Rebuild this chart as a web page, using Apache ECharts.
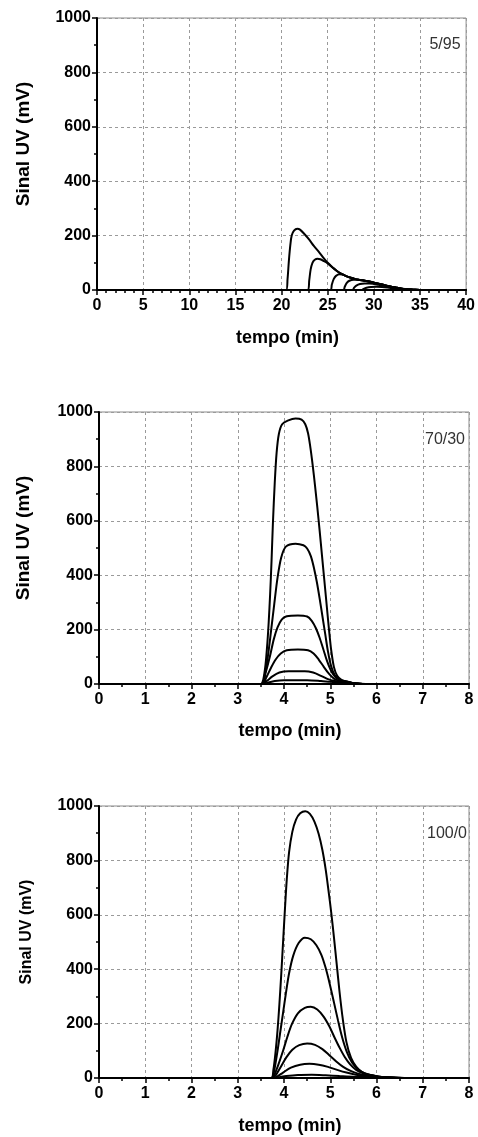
<!DOCTYPE html>
<html>
<head>
<meta charset="utf-8">
<script src="https://cdn.jsdelivr.net/npm/echarts@6/dist/echarts.min.js"></script>
<style>
  html, body { margin: 0; padding: 0; background: #fff; }
  #chart { width: 478px; height: 1137px; }
</style>
</head>
<body>
<div id="chart"></div>
<script>
// panel labels (fase móvel)
var panelLabels = ['5/95', '70/30', '100/0'];

// 5/95 : [tempo (min), sinal (mV)]
var p1_c1 = [[0,0],[20.5,0],[20.65,40],[20.8,110],[20.95,165],[21.1,200],[21.35,218],[21.7,225],[22.0,222],[22.5,205],[23.0,185],[23.5,162],[24.0,142],[24.5,120],[25.0,100],[25.5,84],[26.0,70],[26.5,59],[27.0,51],[27.5,45],[28.0,40],[28.5,37],[29.0,34],[29.5,31],[30.0,27],[30.5,23],[31.0,19],[31.5,15],[32.0,11],[32.5,8],[33.0,5],[33.5,3],[34.0,1.5],[34.5,0.5],[35,0],[40,0]];
var p1_c2 = [[0,0],[22.85,0],[23.0,35],[23.15,75],[23.35,100],[23.6,111],[23.9,115],[24.2,113],[24.6,106],[25.0,98],[25.5,84],[26.0,70],[26.5,59],[27.0,51],[27.5,45],[28.0,40],[28.5,37],[29.0,34],[29.5,31],[30.0,27],[30.5,23],[31.0,19],[31.5,15],[32.0,11],[32.5,8],[33.0,5],[33.5,3],[34.0,1.5],[34.5,0.5],[35,0],[40,0]];
var p1_c3 = [[0,0],[25.3,0],[25.45,20],[25.65,40],[25.9,52],[26.3,58],[26.6,57],[27.0,51],[27.5,45],[28.0,40],[28.5,37],[29.0,34],[29.5,31],[30.0,27],[30.5,23],[31.0,19],[31.5,15],[32.0,11],[32.5,8],[33.0,5],[33.5,3],[34.0,1.5],[34.5,0.5],[35,0],[40,0]];
var p1_c4 = [[0,0],[26.7,0],[26.85,12],[27.05,25],[27.35,34],[27.8,38],[28.3,38],[28.8,36],[29.3,32],[30.0,27],[30.5,23],[31.0,19],[31.5,15],[32.0,11],[32.5,8],[33.0,5],[33.5,3],[34.0,1.5],[34.5,0.5],[35,0],[40,0]];
var p1_c5 = [[0,0],[27.7,0],[27.85,8],[28.1,16],[28.5,22],[29.0,24],[29.5,24],[30.0,22],[30.5,19],[31.0,16],[31.5,13],[32.0,10],[32.5,7],[33.0,5],[33.5,3],[34.0,1.5],[34.5,0.5],[35,0],[40,0]];
var p1_c6 = [[0,0],[28.7,0],[28.9,4],[29.2,8],[29.7,11],[30.3,12],[30.9,11],[31.5,9],[32.0,7],[32.5,5],[33.0,3.5],[33.5,2],[34.0,1],[34.5,0.3],[35,0],[40,0]];

// 70/30
var p2_c1 = [[0,0],[3.5,0],[3.55,15],[3.6,70],[3.64,150],[3.67,230],[3.7,330],[3.73,450],[3.76,590],[3.8,740],[3.84,850],[3.89,920],[3.96,955],[4.08,968],[4.25,976],[4.38,972],[4.46,955],[4.52,922],[4.57,870],[4.62,805],[4.67,730],[4.72,650],[4.77,565],[4.82,475],[4.87,385],[4.92,295],[4.97,205],[5.02,125],[5.08,62],[5.15,30],[5.25,14],[5.38,8],[5.5,3],[5.7,0],[8,0]];
var p2_c2 = [[0,0],[3.52,0],[3.58,30],[3.65,100],[3.72,195],[3.79,295],[3.86,390],[3.94,465],[4.04,505],[4.25,516],[4.42,510],[4.5,498],[4.58,470],[4.65,425],[4.71,375],[4.77,315],[4.83,250],[4.89,185],[4.95,120],[5.02,65],[5.1,32],[5.22,15],[5.38,8],[5.5,3],[5.7,0],[8,0]];
var p2_c3 = [[0,0],[3.52,0],[3.6,40],[3.7,105],[3.78,165],[3.86,208],[3.95,237],[4.06,249],[4.3,252],[4.5,248],[4.6,232],[4.69,205],[4.77,170],[4.85,128],[4.93,85],[5.02,48],[5.12,24],[5.25,12],[5.4,7],[5.5,3],[5.7,0],[8,0]];
var p2_c4 = [[0,0],[3.53,0],[3.62,25],[3.72,60],[3.82,90],[3.93,112],[4.06,124],[4.3,127],[4.52,124],[4.64,112],[4.75,90],[4.86,63],[4.97,38],[5.08,20],[5.22,11],[5.38,6],[5.5,3],[5.7,0],[8,0]];
var p2_c5 = [[0,0],[3.53,0],[3.62,10],[3.75,28],[3.9,42],[4.1,47],[4.45,47],[4.63,42],[4.8,30],[4.95,18],[5.1,11],[5.25,7],[5.4,5],[5.55,2],[5.7,0],[8,0]];
var p2_c6 = [[0,0],[3.54,0],[3.65,5],[3.8,11],[4.0,14],[4.5,14],[4.8,11],[5.0,8],[5.2,6],[5.4,4],[5.55,2],[5.8,0],[8,0]];

// 100/0
var p3_c1 = [[0,0],[3.72,0],[3.77,30],[3.82,100],[3.86,175],[3.9,270],[3.94,380],[3.98,500],[4.02,620],[4.06,730],[4.11,830],[4.18,905],[4.26,950],[4.35,973],[4.46,981],[4.56,971],[4.66,942],[4.75,897],[4.83,838],[4.9,768],[4.96,692],[5.02,610],[5.08,517],[5.14,418],[5.2,318],[5.27,218],[5.35,132],[5.45,74],[5.56,42],[5.68,23],[5.82,13],[5.96,8],[6.1,4],[6.3,1.5],[6.6,0],[8,0]];
var p3_c2 = [[0,0],[3.73,0],[3.78,20],[3.86,100],[3.92,170],[3.98,240],[4.04,310],[4.11,385],[4.2,450],[4.32,497],[4.45,516],[4.58,510],[4.7,488],[4.81,452],[4.9,405],[4.99,345],[5.08,278],[5.17,210],[5.26,148],[5.36,95],[5.47,57],[5.6,32],[5.75,17],[5.9,10],[6.05,5],[6.3,1.5],[6.6,0],[8,0]];
var p3_c3 = [[0,0],[3.74,0],[3.8,15],[3.88,50],[3.98,100],[4.07,150],[4.17,198],[4.3,238],[4.45,258],[4.58,262],[4.72,252],[4.86,225],[4.98,190],[5.09,150],[5.2,112],[5.31,78],[5.43,50],[5.56,30],[5.7,18],[5.86,11],[6.0,6],[6.3,2],[6.6,0],[8,0]];
var p3_c4 = [[0,0],[3.75,0],[3.82,10],[3.92,38],[4.05,76],[4.18,104],[4.33,121],[4.5,127],[4.67,122],[4.83,106],[4.98,84],[5.13,61],[5.28,41],[5.44,26],[5.6,16],[5.78,10],[5.98,5.5],[6.3,2],[6.6,0],[8,0]];
var p3_c5 = [[0,0],[3.77,0],[3.85,5],[3.98,20],[4.15,38],[4.35,49],[4.55,52],[4.75,49],[4.95,41],[5.15,30],[5.35,20],[5.55,12],[5.75,7.5],[6.0,4],[6.3,1.5],[6.6,0],[8,0]];
var p3_c6 = [[0,0],[3.79,0],[3.9,3],[4.05,7],[4.3,11],[4.6,12],[4.9,10],[5.2,7],[5.5,5],[5.9,3],[6.2,1],[6.6,0],[8,0]];

var panelCurves = [
  [p1_c1, p1_c2, p1_c3, p1_c4, p1_c5, p1_c6],
  [p2_c1, p2_c2, p2_c3, p2_c4, p2_c5, p2_c6],
  [p3_c1, p3_c2, p3_c3, p3_c4, p3_c5, p3_c6]
];

var xMax = [40, 8, 8];
var xStep = [5, 1, 1];
var xMinorSplit = [5, 2, 2];

var FONT = '"Liberation Sans", Arial, sans-serif';

var grids = [
  { left: 97, top: 18, width: 371, height: 272 },
  { left: 99, top: 412, width: 370, height: 272 },
  { left: 99, top: 806, width: 370, height: 272 }
];
var yTitleSize = [19, 19, 16];
var yTitleGap = [64, 66, 64];
var xTitleGap = [39, 38, 39];
var labelPos = [[445, 45], [445, 440], [447, 834]];

var chart = echarts.init(document.getElementById('chart'));

var option = {
  backgroundColor: '#fff',
  animation: false,
  grid: grids.map(function (g) {
    return Object.assign({ show: true, borderColor: '#8a8a8a', borderWidth: 1, backgroundColor: 'transparent' }, g);
  }),
  xAxis: [],
  yAxis: [],
  series: [],
  graphic: []
};

for (var i = 0; i < 3; i++) {
  option.xAxis.push({
    gridIndex: i,
    type: 'value',
    min: 0,
    max: xMax[i],
    interval: xStep[i],
    axisLine: { onZero: false, lineStyle: { color: '#000', width: 2 } },
    axisTick: { length: 5, lineStyle: { color: '#000', width: 1.5 } },
    minorTick: { show: true, splitNumber: xMinorSplit[i], length: 3, lineStyle: { color: '#000', width: 1.5 } },
    splitLine: { show: true, lineStyle: { color: '#9a9a9a', width: 1, type: [3, 3] } },
    axisLabel: { color: '#000', fontFamily: FONT, fontWeight: 'bold', fontSize: 16, margin: 8 },
    name: 'tempo (min)',
    nameLocation: 'middle',
    nameGap: xTitleGap[i],
    nameTextStyle: { color: '#000', fontFamily: FONT, fontWeight: 'bold', fontSize: 18, padding: [0, 0, 0, 12] }
  });
  option.yAxis.push({
    gridIndex: i,
    type: 'value',
    min: 0,
    max: 1000,
    interval: 200,
    axisLine: { onZero: false, lineStyle: { color: '#000', width: 2 } },
    axisTick: { length: 5, lineStyle: { color: '#000', width: 1.5 } },
    minorTick: { show: true, splitNumber: 2, length: 3, lineStyle: { color: '#000', width: 1.5 } },
    splitLine: { show: true, lineStyle: { color: '#9a9a9a', width: 1, type: [3, 3] } },
    axisLabel: { color: '#000', fontFamily: FONT, fontWeight: 'bold', fontSize: 16, margin: 6, formatter: function (v) { return String(v); } },
    name: 'Sinal UV (mV)',
    nameLocation: 'middle',
    nameGap: yTitleGap[i],
    nameTextStyle: { color: '#000', fontFamily: FONT, fontWeight: 'bold', fontSize: yTitleSize[i], padding: [0, 0, 0, 20] }
  });
  panelCurves[i].forEach(function (curve) {
    option.series.push({
      type: 'line',
      xAxisIndex: i,
      yAxisIndex: i,
      data: curve,
      showSymbol: false,
      smooth: 0.3,
      lineStyle: { color: '#000', width: 2 },
      silent: true
    });
  });
  option.graphic.push({
    type: 'text',
    x: labelPos[i][0],
    y: labelPos[i][1],
    style: { text: panelLabels[i], fontFamily: FONT, fontSize: 16, fill: '#333', align: 'center', verticalAlign: 'middle' }
  });
}

chart.setOption(option);
</script>
</body>
</html>
